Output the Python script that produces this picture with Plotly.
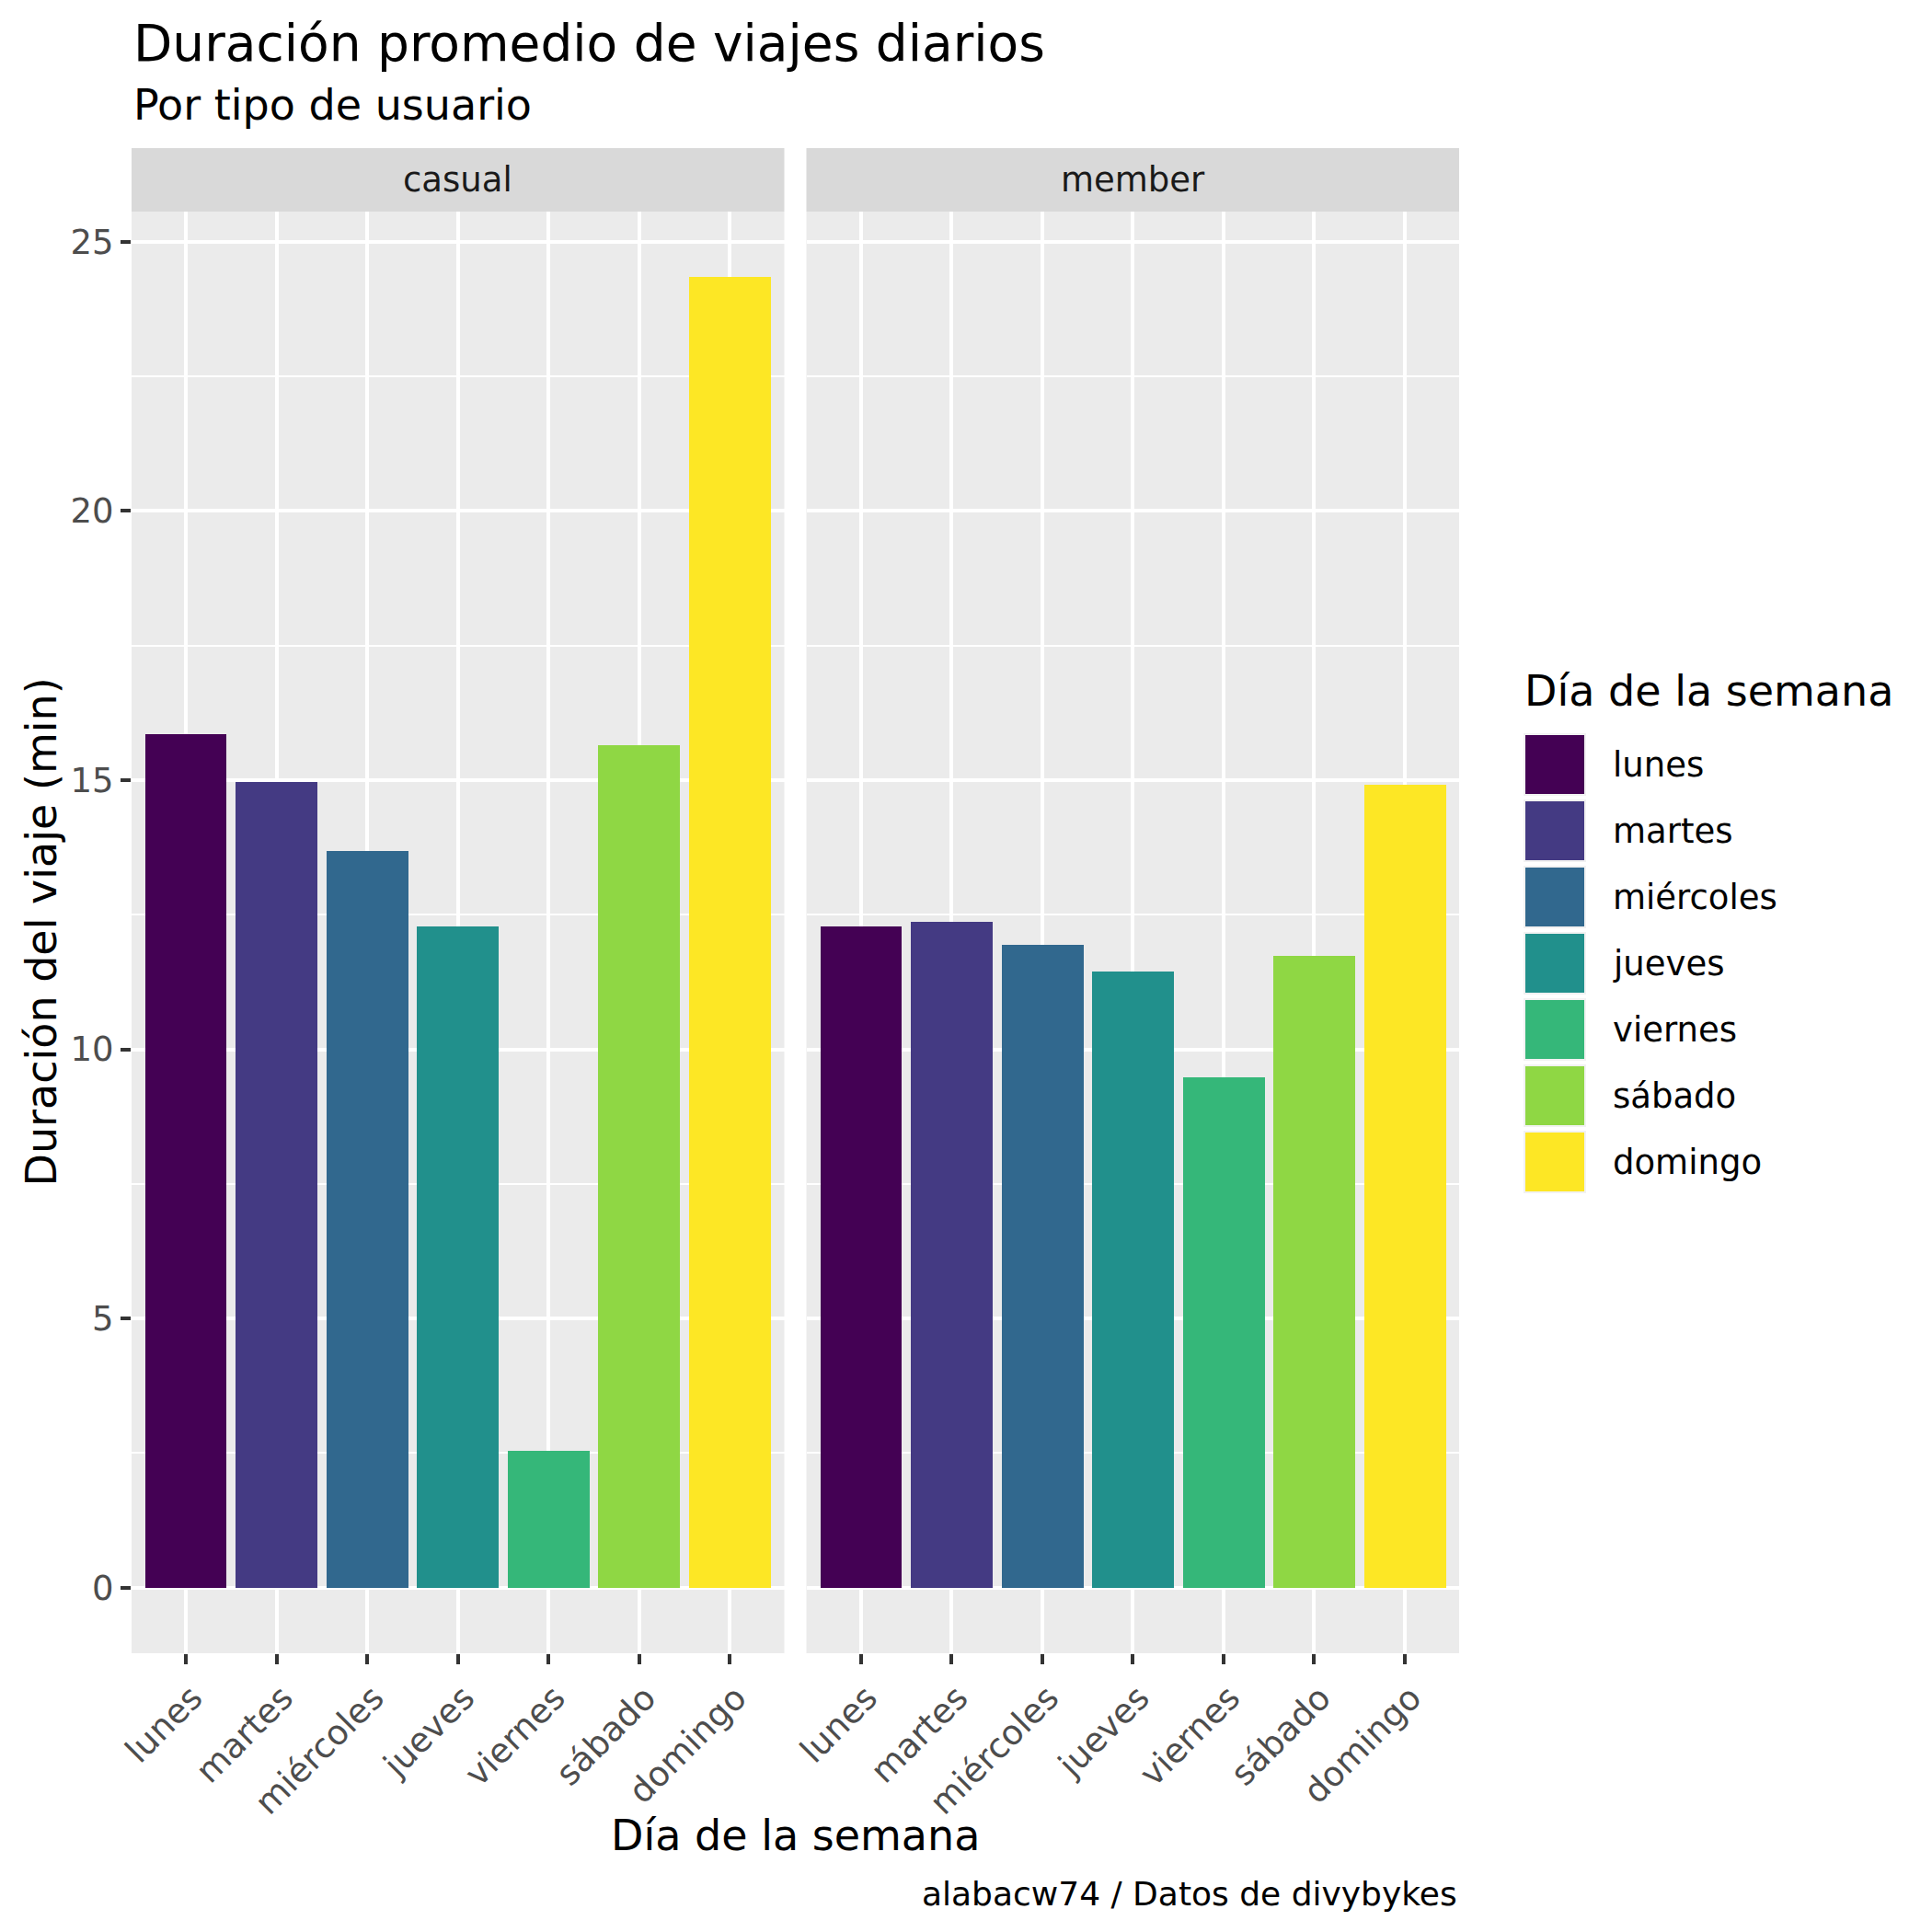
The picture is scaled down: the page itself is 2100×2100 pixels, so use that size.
import plotly.graph_objects as go

# ---------------- data ----------------
days = ["lunes", "martes", "miércoles", "jueves", "viernes", "sábado", "domingo"]
user_types = ["casual", "member"]
casual_minutes = [15.86, 14.97, 13.68, 12.28, 2.54, 15.65, 24.34]
member_minutes = [12.28, 12.37, 11.94, 11.44, 9.48, 11.74, 14.92]
y_ticks = [0, 5, 10, 15, 20, 25]
day_colors = ["#440154", "#443A83", "#31688E", "#21908C", "#35B779", "#8FD744", "#FDE725"]

title_text = "Duración promedio de viajes diarios"
subtitle_text = "Por tipo de usuario"
x_title = "Día de la semana"
y_title = "Duración del viaje (min)"
legend_title = "Día de la semana"
caption_text = "alabacw74 / Datos de divybykes"

# ---------------- layout constants (pixels) ----------------
W = H = 2100
OFF = 8                      # page offset of the figure (body margin)
PL, PT = 143, 230            # plot area top-left on the page
PW, PH = 1443, 1567          # plot area size
L, T = PL - OFF, PT - OFF
R, B = W - L - PW, H - T - PH
GAP = 24
FONT = "DejaVu Sans"


def px_x(px):
    return (px - PL) / PW


def px_y(py):
    return (PT + PH - py) / PH


fig = go.Figure()

series = [casual_minutes, member_minutes]
for k, vals in enumerate(series):
    fig.add_trace(go.Bar(
        x=days, y=vals,
        marker=dict(color=day_colors, line=dict(width=0)),
        width=0.9,
        xaxis="x" if k == 0 else "x2",
        yaxis="y" if k == 0 else "y2",
        showlegend=False,
        hoverinfo="x+y",
    ))

ymax = max(max(casual_minutes), max(member_minutes))
yrange = [-0.05 * ymax, 1.05 * ymax]

half = (PW - GAP) / 2 / PW
common_x = dict(
    type="category", categoryorder="array", categoryarray=days,
    range=[-0.6, 6.6], showgrid=True, gridcolor="white", gridwidth=4.4,
    ticks="outside", ticklen=11, tickwidth=4, tickcolor="#333333",
    tickangle=-45, tickfont=dict(family=FONT, size=37, color="#4D4D4D"),
    ticklabelshift=7,
    showline=False, zeroline=False, fixedrange=True,
)
common_y = dict(
    range=yrange, tickvals=y_ticks, showgrid=True, gridcolor="white", gridwidth=4.4,
    minor=dict(dtick=2.5, tick0=0, showgrid=True, gridcolor="white", gridwidth=2.2, ticks=""),
    zeroline=False, showline=False, fixedrange=True,
)

fig.update_layout(
    width=W, height=H,
    margin=dict(l=L, r=R, t=T, b=B, autoexpand=False),
    paper_bgcolor="white", plot_bgcolor="#EBEBEB",
    font=dict(family=FONT, color="black"),
    bargap=0,
    xaxis=dict(domain=[0, half], anchor="y", **common_x),
    xaxis2=dict(domain=[1 - half, 1], anchor="y2", **common_x),
    yaxis=dict(domain=[0, 1], anchor="x", ticks="outside", ticklen=11, tickwidth=4,
               tickcolor="#333333", tickfont=dict(family=FONT, size=37, color="#4D4D4D"),
               **common_y),
    yaxis2=dict(domain=[0, 1], anchor="x2", matches="y", showticklabels=False, ticks="",
                **common_y),
    showlegend=False,
)

# facet strips
shapes = []
annotations = []
strip_h = 69 / PH
for k, name in enumerate(user_types):
    xr = "x domain" if k == 0 else "x2 domain"
    shapes.append(dict(type="rect", xref=xr, yref="paper", x0=0, x1=1, y0=1, y1=1 + strip_h,
                       fillcolor="#D9D9D9", line=dict(width=0), layer="below"))
    annotations.append(dict(text=name, xref=xr, yref="paper", x=0.5, y=1 + strip_h / 2,
                            xanchor="center", yanchor="middle", showarrow=False,
                            font=dict(family=FONT, size=37, color="#1A1A1A")))

# titles
annotations += [
    dict(text=title_text, xref="paper", yref="paper", x=0, y=px_y(47), xanchor="left",
         yanchor="middle", showarrow=False, font=dict(family=FONT, size=55, color="black")),
    dict(text=subtitle_text, xref="paper", yref="paper", x=0, y=px_y(114), xanchor="left",
         yanchor="middle", showarrow=False, font=dict(family=FONT, size=46, color="black")),
    dict(text=x_title, xref="paper", yref="paper", x=0.5, y=px_y(1995), xanchor="center",
         yanchor="middle", showarrow=False, font=dict(family=FONT, size=46, color="black")),
    dict(text=y_title, xref="paper", yref="paper", x=px_x(44), y=0.5, xanchor="center",
         yanchor="middle", textangle=-90, showarrow=False,
         font=dict(family=FONT, size=46, color="black")),
    dict(text=caption_text, xref="paper", yref="paper", x=1, y=px_y(2058), xanchor="right",
         yanchor="middle", showarrow=False, font=dict(family=FONT, size=36, color="black")),
    dict(text=legend_title, xref="paper", yref="paper", x=px_x(1655), y=px_y(751),
         xanchor="left", yanchor="middle", showarrow=False,
         font=dict(family=FONT, size=46, color="black")),
]

# legend keys
key_left, key_size, key_top, key_step = 1657, 66, 798, 72
for i, (d, c) in enumerate(zip(days, day_colors)):
    top = key_top + i * key_step
    shapes.append(dict(type="rect", xref="paper", yref="paper",
                       x0=px_x(key_left), x1=px_x(key_left + key_size),
                       y0=px_y(top + key_size), y1=px_y(top),
                       fillcolor=c, line=dict(color="#F2F2F2", width=2)))
    annotations.append(dict(text=d, xref="paper", yref="paper", x=px_x(1751),
                            y=px_y(top + key_size / 2), xanchor="left", yanchor="middle",
                            showarrow=False, font=dict(family=FONT, size=37, color="black")))

fig.update_layout(shapes=shapes, annotations=annotations)

fig.write_html("out.html")
